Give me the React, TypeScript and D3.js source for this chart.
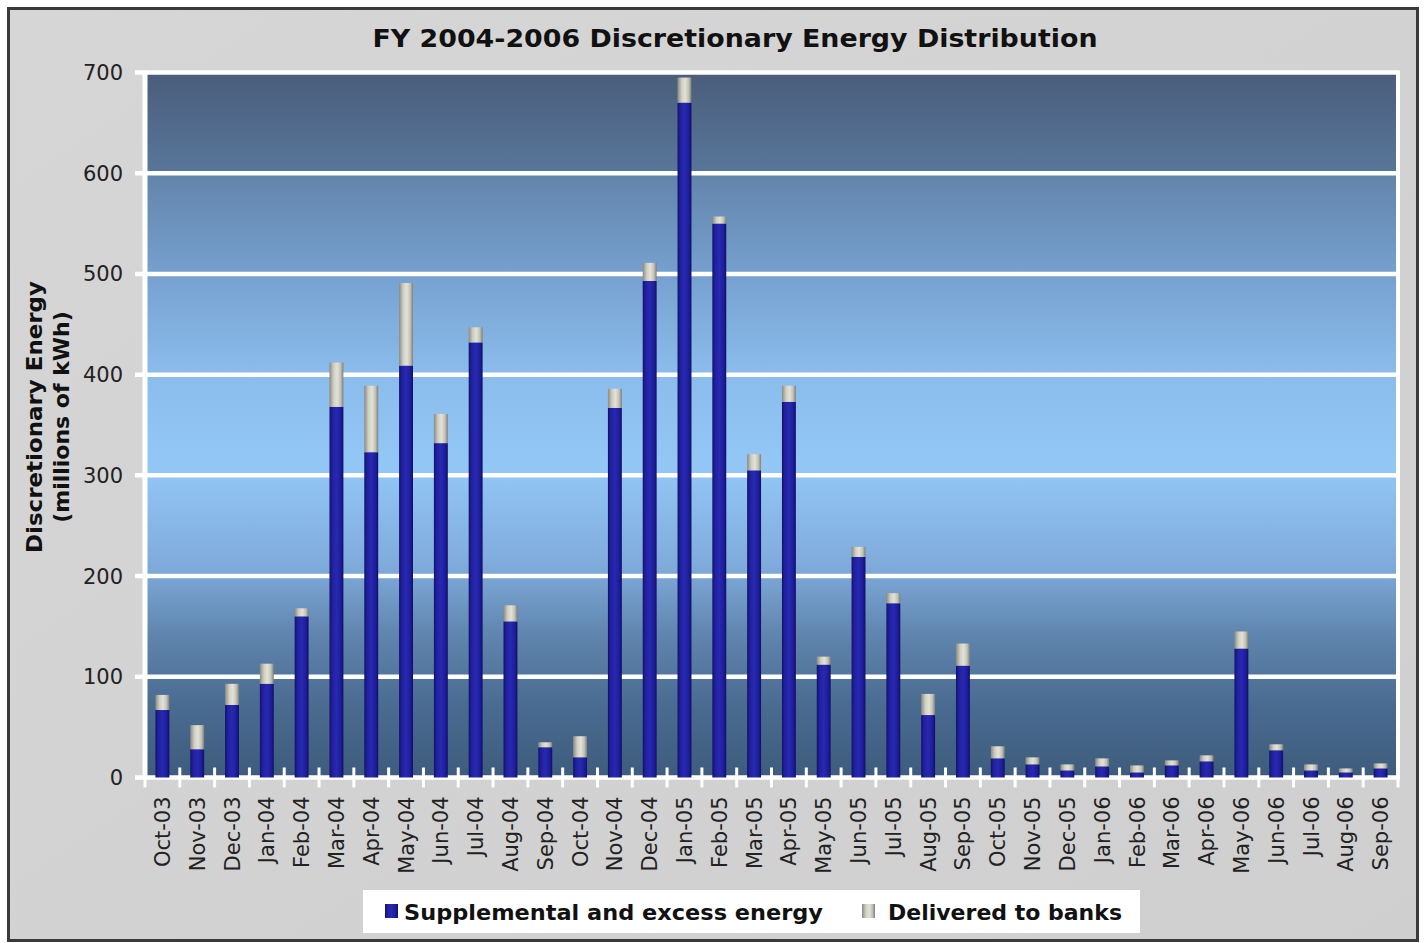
import React from 'react';
import * as d3 from 'd3';

const months = [
  'Oct-03', 'Nov-03', 'Dec-03', 'Jan-04', 'Feb-04', 'Mar-04', 'Apr-04', 'May-04', 'Jun-04',
  'Jul-04', 'Aug-04', 'Sep-04', 'Oct-04', 'Nov-04', 'Dec-04', 'Jan-05', 'Feb-05', 'Mar-05',
  'Apr-05', 'May-05', 'Jun-05', 'Jul-05', 'Aug-05', 'Sep-05', 'Oct-05', 'Nov-05', 'Dec-05',
  'Jan-06', 'Feb-06', 'Mar-06', 'Apr-06', 'May-06', 'Jun-06', 'Jul-06', 'Aug-06', 'Sep-06',
];

// millions of kWh
const supplemental = [
  67, 28, 72, 93, 160, 368, 323, 409, 332, 432, 155, 30, 20, 367, 493, 670, 550, 305,
  373, 112, 219, 173, 62, 111, 19, 13, 7, 11, 5, 12, 16, 128, 27, 7, 5, 9,
];
const banks = [
  15, 24, 21, 20, 8, 44, 66, 82, 29, 15, 16, 5, 21, 19, 18, 25, 7, 16,
  16, 8, 10, 10, 21, 22, 12, 7, 6, 8, 7, 5, 6, 17, 6, 6, 4, 5,
];

const yTicks = [0, 100, 200, 300, 400, 500, 600, 700];
const seriesNames = ['Supplemental and excess energy', 'Delivered to banks'];

const W = 1427;
const H = 943;
const plot = { left: 145, right: 1398, top: 72.5, bottom: 777.5 };
const font = '"DejaVu Sans", sans-serif';

export default function App() {
  const rows = months.map((m, i) => ({ month: m, supplemental: supplemental[i], banks: banks[i] }));
  const stacked = d3.stack<any>().keys(['supplemental', 'banks'])(rows);

  const x = d3.scaleBand().domain(months).range([plot.left, plot.right]).paddingInner(0.6).paddingOuter(0.3);
  const y = d3.scaleLinear().domain([0, 700]).range([plot.bottom, plot.top]);
  const step = x.step();
  const bandEdges = months.map((m) => (x(m) as number) - (step * 0.6) / 2);
  bandEdges.push(plot.right);

  const fills = ['url(#blueBar)', 'url(#grayBar)'];

  return (
    <svg width={W} height={H} style={{ position: 'absolute', left: 0, top: 0, display: 'block' }}>
      <defs>
        <linearGradient id="panel" x1="0" y1="0" x2="1" y2="1">
          <stop offset="0" stopColor="#d6d6d6" />
          <stop offset="1" stopColor="#cfcfcf" />
        </linearGradient>
        <linearGradient id="plotBg" x1="0" y1="0" x2="0" y2="1">
          <stop offset="0" stopColor="#4a5d7b" />
          <stop offset="0.14" stopColor="#587699" />
          <stop offset="0.145" stopColor="#6384ab" />
          <stop offset="0.3" stopColor="#78a3d2" />
          <stop offset="0.43" stopColor="#8bbdec" />
          <stop offset="0.56" stopColor="#93c7f6" />
          <stop offset="0.7" stopColor="#7fabdb" />
          <stop offset="0.8" stopColor="#5f84ad" />
          <stop offset="0.9" stopColor="#4a6b90" />
          <stop offset="1" stopColor="#3d5c7d" />
        </linearGradient>
        <linearGradient id="blueBar" x1="0" y1="0" x2="1" y2="0">
          <stop offset="0" stopColor="#12126a" />
          <stop offset="0.2" stopColor="#20209e" />
          <stop offset="0.5" stopColor="#2828b2" />
          <stop offset="0.8" stopColor="#1e1e9c" />
          <stop offset="1" stopColor="#101064" />
        </linearGradient>
        <linearGradient id="grayBar" x1="0" y1="0" x2="1" y2="0">
          <stop offset="0" stopColor="#8a8a82" />
          <stop offset="0.3" stopColor="#cfcfc4" />
          <stop offset="0.55" stopColor="#e2e2d6" />
          <stop offset="0.8" stopColor="#c2c2b8" />
          <stop offset="1" stopColor="#7e7e78" />
        </linearGradient>
      </defs>

      {/* outer frame */}
      <rect x={8.5} y={8.5} width={1409} height={932} fill="url(#panel)" stroke="#3a3a3a" strokeWidth={3} />

      <text x={735} y={47} textAnchor="middle" fontFamily={font} fontWeight={700} fontSize={25} fill="#111"
        textLength={725} lengthAdjust="spacingAndGlyphs">
        FY 2004-2006 Discretionary Energy Distribution
      </text>

      {/* plot background */}
      <rect x={plot.left} y={plot.top} width={plot.right - plot.left} height={plot.bottom - plot.top} fill="url(#plotBg)" />

      {/* gridlines */}
      {yTicks.map((t) => (
        <line key={t} x1={plot.left - 10} x2={plot.right} y1={y(t)} y2={y(t)} stroke="#fff" strokeWidth={4.5} />
      ))}
      <line x1={plot.right} x2={plot.right} y1={plot.top - 2} y2={plot.bottom + 2} stroke="#fff" strokeWidth={4} />
      <line x1={plot.left} x2={plot.left} y1={plot.top - 2} y2={plot.bottom + 2} stroke="#fff" strokeWidth={5} />

      {/* bars */}
      {stacked.map((s, si) => (
        <g key={s.key}>
          {s.map((d, i) => (
            <rect
              key={months[i]}
              x={x(months[i])}
              width={x.bandwidth()}
              y={y(d[1])}
              height={Math.max(0, y(d[0]) - y(d[1]))}
              fill={fills[si]}
            />
          ))}
        </g>
      ))}

      {/* x tick marks */}
      {bandEdges.map((bx, i) => (
        <line key={i} x1={bx} x2={bx} y1={plot.bottom - 10} y2={plot.bottom + 10} stroke="#fff" strokeWidth={3} />
      ))}

      {/* y labels */}
      {yTicks.map((t) => (
        <text key={t} x={123} y={y(t)} dy="0.36em" textAnchor="end" fontFamily={font} fontSize={21} fill="#222">
          {t}
        </text>
      ))}

      {/* x labels */}
      {months.map((m) => {
        const cx = (x(m) as number) + x.bandwidth() / 2;
        return (
          <text
            key={m}
            transform={`translate(${cx},${plot.bottom + 19}) rotate(-90)`}
            textAnchor="end"
            dy="0.36em"
            fontFamily={font}
            fontSize={21}
            fill="#222"
          >
            {m}
          </text>
        );
      })}

      {/* y axis title */}
      <g transform="translate(48,417) rotate(-90)" fontFamily={font} fontWeight={700} fontSize={22} fill="#111" textAnchor="middle">
        <text y={-6} textLength={272} lengthAdjust="spacingAndGlyphs">Discretionary Energy</text>
        <text y={21}>(millions of kWh)</text>
      </g>

      {/* legend */}
      <rect x={363} y={890} width={777} height={43} fill="#fff" />
      <rect x={385} y={904} width={13} height={14} fill={fills[0]} />
      <text x={404} y={920} fontFamily={font} fontWeight={700} fontSize={22} fill="#111"
        textLength={419} lengthAdjust="spacingAndGlyphs">
        {seriesNames[0]}
      </text>
      <rect x={862} y={904} width={13} height={14} fill={fills[1]} />
      <text x={888} y={920} fontFamily={font} fontWeight={700} fontSize={22} fill="#111"
        textLength={234} lengthAdjust="spacingAndGlyphs">
        {seriesNames[1]}
      </text>
    </svg>
  );
}
